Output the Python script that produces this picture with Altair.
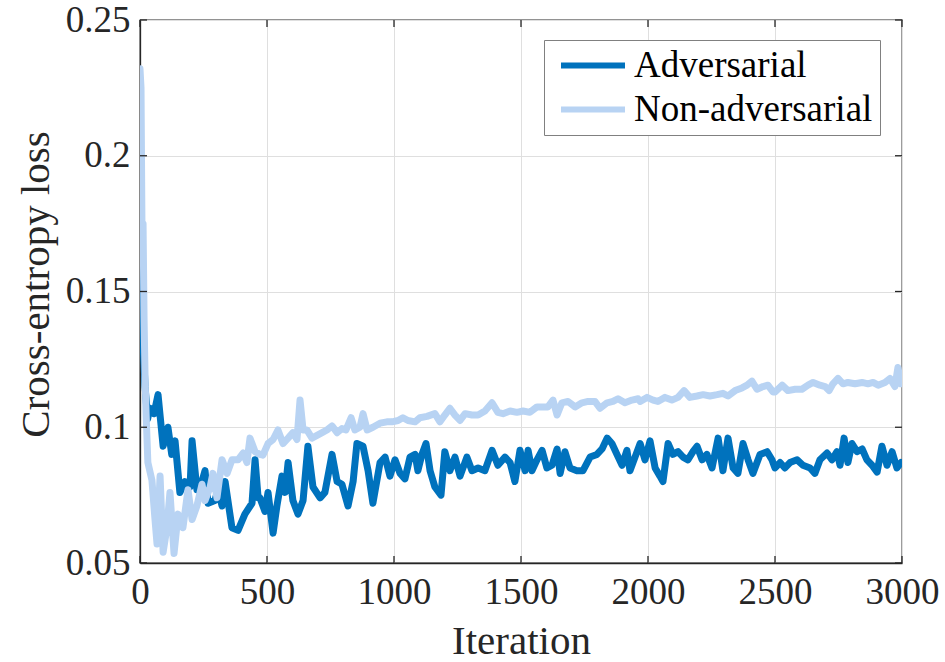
import altair as alt
import pandas as pd

# ---- data ----
adv_iter = [0, 4, 10, 20, 30, 39, 55, 71, 91, 110, 125, 138, 157, 177, 197, 205, 224, 244, 256, 268,
            295, 307, 323, 335, 362, 386, 413, 441, 453, 465, 472, 492, 504, 524, 539, 559, 571, 583,
            602, 622, 642, 661, 681, 709, 728, 756, 776, 795, 819, 839, 854, 878, 898, 917, 945, 965,
            984, 1004, 1024, 1043, 1063, 1083, 1094, 1110, 1126, 1142, 1161, 1185, 1200, 1220, 1240,
            1260, 1287, 1307, 1331, 1358, 1386, 1409, 1437, 1457, 1476, 1496, 1516, 1528, 1543, 1563,
            1583, 1602, 1622, 1642, 1654, 1673, 1693, 1720, 1744, 1772, 1799, 1819, 1839, 1858, 1878,
            1898, 1917, 1929, 1949, 1969, 1988, 2008, 2028, 2047, 2059, 2079, 2098, 2118, 2138, 2157,
            2177, 2193, 2213, 2232, 2252, 2276, 2295, 2315, 2335, 2354, 2374, 2394, 2413, 2441, 2469,
            2488, 2500, 2520, 2539, 2559, 2587, 2610, 2638, 2657, 2677, 2705, 2724, 2744, 2756, 2772,
            2787, 2803, 2823, 2843, 2862, 2882, 2902, 2921, 2941, 2961, 2980, 2996]
adv_loss = [0.189, 0.166, 0.135, 0.115, 0.103, 0.107, 0.105, 0.112, 0.093, 0.100, 0.090, 0.095, 0.076,
            0.080, 0.078, 0.095, 0.077, 0.080, 0.084, 0.072, 0.073, 0.077, 0.071, 0.080, 0.063, 0.062,
            0.068, 0.072, 0.088, 0.074, 0.074, 0.069, 0.076, 0.061, 0.071, 0.082, 0.076, 0.087, 0.073,
            0.068, 0.073, 0.093, 0.078, 0.074, 0.076, 0.090, 0.080, 0.079, 0.071, 0.080, 0.094, 0.093,
            0.084, 0.072, 0.087, 0.089, 0.082, 0.088, 0.083, 0.081, 0.089, 0.090, 0.084, 0.090, 0.094,
            0.084, 0.078, 0.075, 0.091, 0.084, 0.089, 0.082, 0.089, 0.084, 0.085, 0.084, 0.0915, 0.086,
            0.089, 0.087, 0.080, 0.0915, 0.084, 0.0915, 0.084, 0.088, 0.0915, 0.085, 0.086, 0.092,
            0.083, 0.091, 0.085, 0.084, 0.084, 0.089, 0.090, 0.092, 0.096, 0.094, 0.090, 0.086, 0.0915,
            0.084, 0.089, 0.094, 0.088, 0.095, 0.085, 0.082, 0.080, 0.094, 0.090, 0.091, 0.089, 0.088,
            0.091, 0.093, 0.088, 0.090, 0.085, 0.096, 0.084, 0.096, 0.085, 0.083, 0.094, 0.088, 0.083,
            0.090, 0.091, 0.088, 0.085, 0.087, 0.085, 0.087, 0.088, 0.086, 0.085, 0.083, 0.088, 0.0905,
            0.088, 0.091, 0.086, 0.096, 0.087, 0.094, 0.091, 0.092, 0.088, 0.086, 0.0835, 0.093, 0.086,
            0.091, 0.085, 0.087]

non_iter = [0, 4, 8, 12, 16, 20, 24, 31, 47, 59, 67, 79, 91, 106, 118, 134, 150, 169, 189, 205, 224,
            244, 256, 276, 287, 303, 323, 343, 362, 386, 406, 421, 433, 453, 472, 484, 504, 524, 543,
            563, 583, 602, 618, 630, 642, 657, 677, 697, 717, 736, 756, 776, 795, 811, 831, 846, 866,
            878, 894, 917, 945, 972, 992, 1016, 1035, 1055, 1083, 1102, 1130, 1161, 1181, 1200, 1220,
            1240, 1260, 1280, 1307, 1331, 1358, 1386, 1409, 1429, 1457, 1484, 1508, 1535, 1563, 1587,
            1606, 1626, 1642, 1661, 1685, 1713, 1740, 1764, 1791, 1811, 1839, 1862, 1882, 1909, 1937,
            1961, 1969, 1996, 2020, 2039, 2067, 2094, 2118, 2142, 2165, 2193, 2217, 2244, 2272, 2295,
            2315, 2343, 2370, 2390, 2409, 2429, 2453, 2472, 2492, 2500, 2528, 2551, 2579, 2606, 2630,
            2650, 2677, 2697, 2713, 2728, 2748, 2768, 2787, 2815, 2843, 2866, 2886, 2906, 2933, 2953,
            2972, 2984, 2996]
non_loss = [0.232, 0.225, 0.170, 0.175, 0.140, 0.118, 0.105, 0.087, 0.0805, 0.066, 0.057, 0.082, 0.054,
            0.063, 0.076, 0.0535, 0.068, 0.063, 0.077, 0.066, 0.071, 0.079, 0.073, 0.078, 0.083, 0.074,
            0.088, 0.083, 0.088, 0.088, 0.0905, 0.087, 0.096, 0.091, 0.090, 0.0897, 0.094, 0.0955,
            0.099, 0.094, 0.096, 0.098, 0.0955, 0.110, 0.099, 0.099, 0.096, 0.097, 0.098, 0.099, 0.1005,
            0.098, 0.0995, 0.099, 0.1035, 0.099, 0.100, 0.105, 0.099, 0.100, 0.1015, 0.102, 0.102,
            0.1025, 0.1035, 0.1025, 0.102, 0.1035, 0.104, 0.105, 0.102, 0.1045, 0.107, 0.1045, 0.1025,
            0.105, 0.1045, 0.1045, 0.106, 0.109, 0.1055, 0.105, 0.106, 0.1055, 0.106, 0.1055, 0.1075,
            0.1075, 0.1075, 0.110, 0.1045, 0.109, 0.1095, 0.1075, 0.109, 0.1095, 0.1095, 0.107, 0.109,
            0.1095, 0.1105, 0.109, 0.110, 0.1105, 0.1095, 0.111, 0.110, 0.1095, 0.111, 0.110, 0.111,
            0.1135, 0.111, 0.1115, 0.112, 0.1115, 0.112, 0.1125, 0.1115, 0.1135, 0.1145, 0.1155, 0.117,
            0.114, 0.115, 0.1155, 0.113, 0.113, 0.1155, 0.1135, 0.114, 0.114, 0.1155, 0.1165, 0.1155,
            0.115, 0.1135, 0.116, 0.118, 0.116, 0.1165, 0.116, 0.1165, 0.116, 0.1165, 0.1155, 0.1165,
            0.118, 0.115, 0.122, 0.116]

series_names = ["Adversarial", "Non-adversarial"]
series_colors = ["#0072BD", "#B8D3F3"]
x_ticks = [0, 500, 1000, 1500, 2000, 2500, 3000]
y_ticks = [0.05, 0.1, 0.15, 0.2, 0.25]

W, H = 762, 543
TICK = 7
FONT = "Liberation Serif"

df = pd.concat([
    pd.DataFrame({"Iteration": adv_iter, "Loss": adv_loss, "Series": series_names[0]}),
    pd.DataFrame({"Iteration": non_iter, "Loss": non_loss, "Series": series_names[1]}),
], ignore_index=True)

xscale = alt.Scale(domain=[0, 3000], nice=False, zero=False)
yscale = alt.Scale(domain=[0.05, 0.25], nice=False, zero=False)

lines = alt.Chart(df).mark_line(strokeWidth=7, strokeJoin="round", strokeCap="round", clip=True).encode(
    x=alt.X("Iteration:Q", scale=xscale,
            axis=alt.Axis(title="Iteration", values=x_ticks, format="d", titleY=90,
                          titleBaseline="alphabetic", labelFlush=False, labelOverlap=False)),
    y=alt.Y("Loss:Q", scale=yscale,
            axis=alt.Axis(title="Cross-entropy loss", values=y_ticks, format="~g",
                          titleX=-92, titleY=264, titleBaseline="alphabetic",
                          labelFlush=False, labelOverlap=False)),
    color=alt.Color("Series:N",
                    scale=alt.Scale(domain=series_names, range=series_colors),
                    legend=alt.Legend(title=None, orient="none", legendX=404, legendY=20,
                                      symbolType="stroke", symbolSize=4096, symbolStrokeWidth=6,
                                      labelFont=FONT, labelFontSize=37, labelColor="black",
                                      labelLimit=500, clipHeight=37,
                                      padding=7, symbolOffset=7, labelOffset=6, rowPadding=6,
                                      strokeColor="#808080", fillColor="white")),
    order=alt.Order("Iteration:Q"),
)

xt = pd.DataFrame({"Iteration": x_ticks})
yt = pd.DataFrame({"Loss": y_ticks})
tick_style = dict(color="#262626", strokeWidth=1.3)

bx = alt.Chart(xt).mark_rule(**tick_style).encode(
    x=alt.X("Iteration:Q", scale=xscale), y=alt.value(H), y2=alt.value(H - TICK))
tx = alt.Chart(xt).mark_rule(**tick_style).encode(
    x=alt.X("Iteration:Q", scale=xscale), y=alt.value(0), y2=alt.value(TICK))
ly = alt.Chart(yt).mark_rule(**tick_style).encode(
    y=alt.Y("Loss:Q", scale=yscale), x=alt.value(0), x2=alt.value(TICK))
ry = alt.Chart(yt).mark_rule(**tick_style).encode(
    y=alt.Y("Loss:Q", scale=yscale), x=alt.value(W), x2=alt.value(W - TICK))

chart = alt.layer(lines, bx, tx, ly, ry).properties(
    width=W, height=H,
    autosize=alt.AutoSizeParams(type="none"),
    padding={"left": 140, "top": 20, "right": 43, "bottom": 99},
    background="white",
).configure_view(
    stroke="#262626", strokeWidth=1.3
).configure_axis(
    labelFont=FONT, labelFontSize=37, labelColor="#262626",
    titleFont=FONT, titleFontSize=41, titleFontWeight="normal", titleColor="#262626",
    gridColor="#dfdfdf", gridWidth=1, domainColor="#262626", domainWidth=1.3,
    tickSize=0, labelPadding=10,
).configure_axisX(labelPadding=11)

chart.save("out.html", embed_options={"renderer": "svg", "actions": False})
